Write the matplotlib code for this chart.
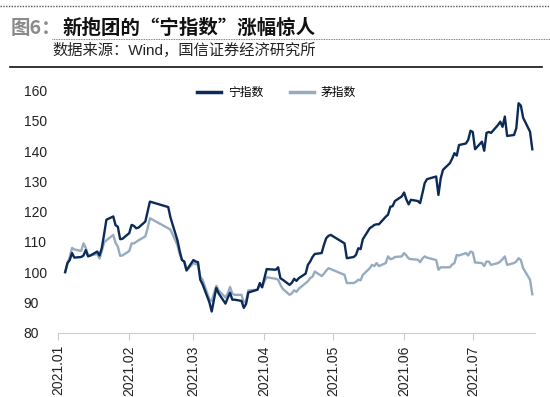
import datetime as dt
import matplotlib
matplotlib.use("Agg")
import matplotlib.pyplot as plt
from matplotlib.lines import Line2D

plt.rcParams['font.family'] = ['Liberation Sans', 'Noto Sans CJK SC', 'DejaVu Sans']

# trading days (key points)
dates = ["2021-01-04", "2021-01-05", "2021-01-06", "2021-01-07", "2021-01-08",
         "2021-01-11", "2021-01-12", "2021-01-13", "2021-01-14", "2021-01-15",
         "2021-01-18", "2021-01-19", "2021-01-20", "2021-01-21", "2021-01-22",
         "2021-01-25", "2021-01-26", "2021-01-27", "2021-01-28", "2021-01-29",
         "2021-02-01", "2021-02-02", "2021-02-03", "2021-02-04", "2021-02-05",
         "2021-02-08", "2021-02-09", "2021-02-10", "2021-02-18", "2021-02-19",
         "2021-02-22", "2021-02-23", "2021-02-24", "2021-02-25", "2021-02-26",
         "2021-03-01", "2021-03-02", "2021-03-03", "2021-03-04", "2021-03-05",
         "2021-03-08", "2021-03-09", "2021-03-10", "2021-03-11", "2021-03-12",
         "2021-03-15", "2021-03-16", "2021-03-17", "2021-03-18", "2021-03-19",
         "2021-03-22", "2021-03-23", "2021-03-24", "2021-03-25", "2021-03-26",
         "2021-03-29", "2021-03-30", "2021-03-31", "2021-04-01", "2021-04-02",
         "2021-04-06", "2021-04-07", "2021-04-08", "2021-04-09", "2021-04-12",
         "2021-04-13", "2021-04-14", "2021-04-15", "2021-04-16", "2021-04-19",
         "2021-04-20", "2021-04-21", "2021-04-22", "2021-04-23", "2021-04-26",
         "2021-04-27", "2021-04-28", "2021-04-29", "2021-04-30", "2021-05-06",
         "2021-05-07", "2021-05-10", "2021-05-11", "2021-05-12", "2021-05-13",
         "2021-05-14", "2021-05-17", "2021-05-18", "2021-05-19", "2021-05-20",
         "2021-05-21", "2021-05-24", "2021-05-25", "2021-05-26", "2021-05-27",
         "2021-05-28", "2021-05-31", "2021-06-01", "2021-06-02", "2021-06-03",
         "2021-06-04", "2021-06-07", "2021-06-08", "2021-06-09", "2021-06-10",
         "2021-06-11", "2021-06-15", "2021-06-16", "2021-06-17", "2021-06-18",
         "2021-06-21", "2021-06-22", "2021-06-23", "2021-06-24", "2021-06-25",
         "2021-06-28", "2021-06-29", "2021-06-30", "2021-07-01", "2021-07-02",
         "2021-07-05", "2021-07-06", "2021-07-07", "2021-07-08", "2021-07-09",
         "2021-07-12", "2021-07-13", "2021-07-14", "2021-07-15", "2021-07-16",
         "2021-07-19", "2021-07-20", "2021-07-21", "2021-07-22", "2021-07-23",
         "2021-07-26", "2021-07-27"]

ning = [100, 103, 104, 106.3, 104.8,
        105, 105.5, 107.3, 105.2, 105.5,
        106.8, 105.5, 108, 112.5, 117.3,
        118.4, 115.5, 115, 110.9, 111,
        112.9, 115.6, 115.3, 114.5, 114.7,
        116.7, 120, 123.3, 121.5, 118,
        110.6, 107, 104, 103.5, 100.6,
        104, 103.5, 103.3, 97.5, 96,
        90, 87, 91, 94.8, 93,
        89.6, 91.5, 93.2, 90.9, 90.9,
        90.5, 88.2, 89.5, 93.3, 93.5,
        94.2, 96.4, 95, 98, 101,
        100.8, 101.6, 98, 97.5, 95.8,
        96.5, 97.8, 97.1, 98, 99.5,
        102.4, 103.5, 105, 106, 106.3,
        109, 111.2, 112, 112.3, 109.5,
        104.6, 105, 105.7, 107.9, 107.6,
        110.9, 114.5, 115, 115.6, 115.8,
        115.8, 118.3, 119, 121.6, 121.8,
        123.5, 125, 126.3, 124, 122.4,
        123.9, 123.5, 122.8, 126, 129.4,
        130.7, 131.6, 125.5, 131, 133.8,
        136, 137.5, 139.3, 138.5, 142,
        142.5, 143.7, 146.7, 146.3, 140.6,
        143.1, 140.1, 146, 146.3, 146,
        148.6, 149.7, 148, 151.4, 145,
        145.3, 147.5, 155.8, 155, 151,
        146.4, 140.6]

mao = [100, 103, 105, 108, 107.5,
       107, 109.5, 108, 105.5, 105.5,
       106, 104.5, 107, 109.8, 110.5,
       112.3, 109.7, 108.4, 105.4, 105.5,
       107, 109.5, 109.5, 110, 110.5,
       111.8, 114.5, 117.8, 114.5, 114,
       109, 106, 104, 103.5, 100.5,
       103, 102.6, 102.6, 98.5, 97.5,
       91, 90.5, 93, 95.5, 94,
       91.6, 93, 95.1, 92.9, 92.5,
       92.5, 90, 90.5, 94, 94,
       94.2, 96, 95, 97, 98.3,
       97.8, 97.5, 95.8, 94.5, 92.5,
       93, 94, 93.5, 94.5, 96.4,
       97, 98, 98.5, 100.2, 98.7,
       99.5, 100.5, 101.3, 101, 99.1,
       96.4, 96.4, 96.8, 97.5, 97.3,
       99.1, 101.3, 102.4, 102, 103,
       102, 103, 105.2, 104.3, 104.5,
       105, 105.2, 106.3, 105.5, 104.5,
       104.3, 104.1, 103.3, 104.5, 105.2,
       104.8, 104, 100.8, 101.6, 101.6,
       101.6, 102.5, 103, 105.7, 105.5,
       106.3, 105.5, 106.8, 106.5, 103.2,
       103, 102, 103.5, 103.5, 102.4,
       103, 103.5, 104.3, 105.2, 102.4,
       103, 103.5, 104.6, 104, 101.3,
       97.5, 92.7]

month_ticks = ["2021-01-01", "2021-02-01", "2021-03-01", "2021-04-01",
               "2021-05-01", "2021-06-01", "2021-07-01"]
month_labels = ["2021.01", "2021.02", "2021.03", "2021.04",
                "2021.05", "2021.06", "2021.07"]
yticks = [80, 90, 100, 110, 120, 130, 140, 150, 160]

navy = "#0b2a58"
grayblue = "#97abc0"
cjk = ['Noto Sans CJK SC', 'DejaVu Sans']

x = [dt.datetime.strptime(d, "%Y-%m-%d") for d in dates]
xt = [dt.datetime.strptime(d, "%Y-%m-%d") for d in month_ticks]

fig = plt.figure(figsize=(5.5, 3.97), dpi=100)
ax = fig.add_axes([0.106, 0.162, 0.866, 0.610])

ax.plot(x, mao, color=grayblue, lw=1.7)
ax.plot(x, ning, color=navy, lw=1.7)

ax.set_xlim(dt.datetime(2021, 1, 1), dt.datetime(2021, 7, 28))
ax.set_ylim(80, 160)
ax.set_yticks(yticks)
ax.set_xticks(xt)
ax.set_xticklabels(month_labels, rotation=90)
ax.tick_params(axis='y', length=0, labelsize=10, pad=25, colors="#222222")
ax.tick_params(axis='x', length=5, color="#cccccc", labelsize=10, pad=4,
               colors="#222222")
for lab in ax.get_yticklabels():
    lab.set_horizontalalignment('left')
for s in ["left", "right", "top"]:
    ax.spines[s].set_visible(False)
ax.spines["bottom"].set_color("#cccccc")

handles = [Line2D([], [], color=navy, lw=2.5), Line2D([], [], color=grayblue, lw=2.5)]
fig.legend(handles, ["宁指数", "茅指数"], loc="center", bbox_to_anchor=(0.503, 0.766),
           ncol=2, frameon=False, prop={'family': cjk, 'size': 8.5},
           handlelength=2.0, columnspacing=2.3, handletextpad=0.6)

# header
fig.text(0.020, 0.929, "图6：", fontsize=14, fontweight="bold", color="#8a8a8a",
         va="center", family=cjk)
fig.text(0.114, 0.929, "新抱团的“宁指数”涨幅惊人", fontsize=14, fontweight="bold",
         color="#111111", va="center", family=cjk)
fig.text(0.095, 0.874, "数据来源：Wind，国信证券经济研究所", fontsize=11,
         color="#222222", va="center")
fig.add_artist(Line2D([0.0, 1.0], [0.985, 0.985], color="#555555", lw=1.0,
                      linestyle=(0, (1, 1))))
fig.add_artist(Line2D([0.095, 1.0], [0.901, 0.901], color="#555555", lw=0.6,
                      linestyle=(0, (1, 1))))
fig.add_artist(Line2D([0.018, 0.985], [0.832, 0.832], color="#111111", lw=1.2))

fig.savefig("out.png", dpi=100)
